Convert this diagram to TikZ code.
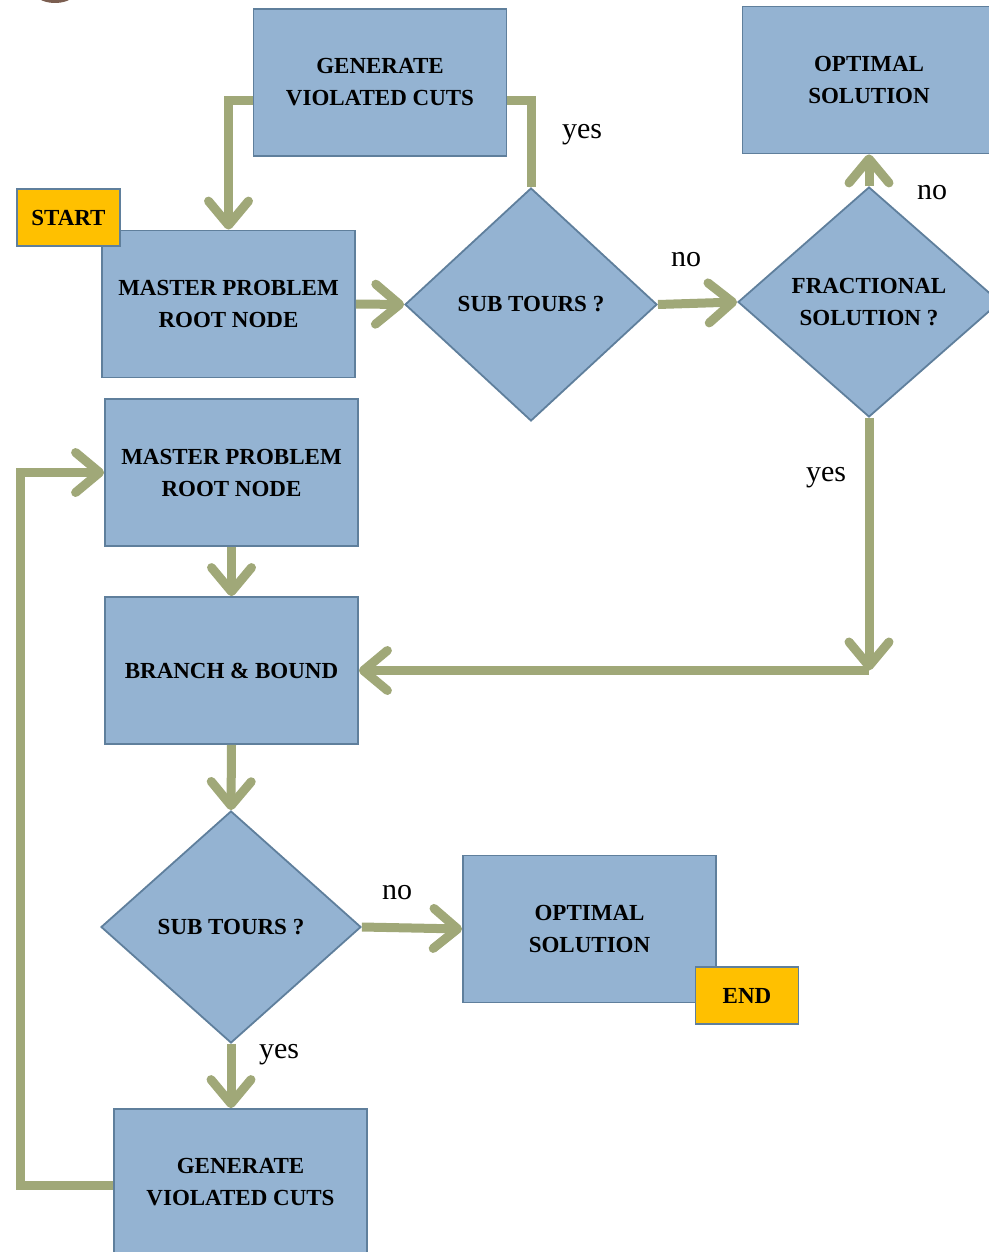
\documentclass[tikz,border=0pt]{standalone}
\usepackage{fontspec}
\setmainfont{Liberation Serif}
\usetikzlibrary{arrows.meta,shapes.geometric}
\definecolor{boxfill}{HTML}{94B3D2}
\definecolor{boxline}{HTML}{5F7F9C}
\definecolor{arrowc}{HTML}{A0A878}
\definecolor{startc}{HTML}{FFC000}
\definecolor{brownc}{HTML}{7B5E50}
\begin{document}
\begin{tikzpicture}[x=1pt,y=-1pt,
  box/.style={draw=boxline, fill=boxfill, line width=1.8pt, minimum width=253pt, minimum height=147pt, align=center, inner sep=0pt,
    font=\bfseries\fontsize{23}{32}\selectfont},
  dia/.style={diamond, draw=boxline, fill=boxfill, line width=1.8pt, align=center, inner sep=0pt,
    font=\bfseries\fontsize{23}{32}\selectfont},
  tag/.style={draw=boxline, fill=startc, line width=1.8pt, minimum width=103pt, minimum height=57pt, inner sep=0pt,
    font=\bfseries\fontsize{23}{28}\selectfont},
  lbl/.style={font=\fontsize{30}{34}\selectfont, inner sep=0pt},
  link/.style={draw=arrowc, line width=9pt},
  flow/.style={link, -{Straight Barb[length=24pt,width=40pt,round]}}
]
\useasboundingbox (0,0) rectangle (988,1252);
\fill[brownc] (55,-22) ellipse (30 and 25);
\fill[brownc] (-18,-22) ellipse (30 and 24);

% nodes
\node[box] (gc1) at (380,82.5) {GENERATE\\VIOLATED CUTS};
\node[box] (os1) at (869,80) {OPTIMAL\\SOLUTION};
\node[box] (mp1) at (228.5,304) {MASTER PROBLEM\\ROOT NODE};
\node[dia, minimum width=252pt, minimum height=233pt] (d1) at (531,304.5) {SUB TOURS ?};
\node[dia, minimum width=262pt, minimum height=230pt] (fr) at (869,302) {FRACTIONAL\\SOLUTION ?};
\node[box] (mp2) at (231.5,472.5) {MASTER PROBLEM\\ROOT NODE};
\node[box] (bb) at (231.5,670.5) {BRANCH \& BOUND};
\node[dia, minimum width=260pt, minimum height=232pt] (d2) at (231,927) {SUB TOURS ?};
\node[box] (os2) at (589.5,929) {OPTIMAL\\SOLUTION};
\node[box, minimum height=146pt] (gc2) at (240.5,1182) {GENERATE\\VIOLATED CUTS};
\node[tag] (start) at (68.5,217.5) {START};
\node[tag] (end) at (747,995.5) {END};

% connectors
\draw[flow] (gc1.west |- 0,101) -| (mp1.north);
\draw[link] (gc1.east |- 0,101) -| (d1.north);
\draw[flow] (mp1.east) -- (d1.west);
\draw[flow] (d1.east) -- (fr.west);
\draw[flow] (fr.north) -- (os1.south);
\draw[flow] (fr.south) -- (fr.south |- bb.east);
\draw[flow] (fr.south |- bb.east) -- (bb.east);
\draw[flow] (mp2.south) -- (bb.north);
\draw[flow] (bb.south) -- (d2.north);
\draw[flow] (d2.east) -- (os2.west);
\draw[flow] (d2.south) -- (d2.south |- gc2.north);
\draw[flow] (gc2.west |- 0,1185) -- (20,1185) |- (mp2.west);

% labels
\node[lbl] (y1) at (582,135) {yes};
\node[lbl] (n1) at (686,260) {no};
\node[lbl] (n2) at (932,193) {no};
\node[lbl] (y2) at (826,478) {yes};
\node[lbl] (n3) at (397,893) {no};
\node[lbl] (y3) at (279,1055) {yes};
\end{tikzpicture}
\end{document}
